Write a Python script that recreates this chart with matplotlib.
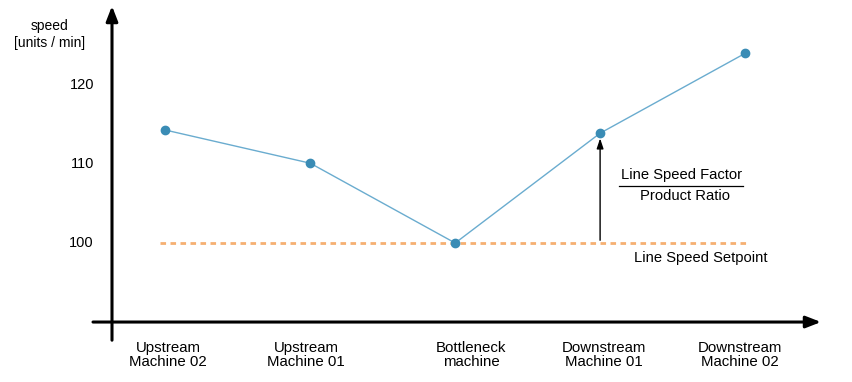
import matplotlib
matplotlib.use("Agg")
import matplotlib.pyplot as plt

categories = ["Upstream\nMachine 02", "Upstream\nMachine 01", "Bottleneck\nmachine",
              "Downstream\nMachine 01", "Downstream\nMachine 02"]
speeds = [114.3, 110.1, 100.0, 113.9, 124.0]
yticks = [100, 110, 120]
setpoint = 100

plt.rcParams['font.family'] = ['Liberation Sans', 'DejaVu Sans']

fig = plt.figure(figsize=(8.52, 3.82), dpi=100)
ax = fig.add_axes([0, 0, 1, 1])
# pixel mapping: x index 0 -> 165.4 px, 144.9 px per category
ax.set_xlim(-165.4 / 144.9, (852 - 165.4) / 144.9)
ax.set_ylim(82.41, 130.76)
ax.axis('off')

def px(p):
    return (p - 165.4) / 144.9

x = list(range(len(categories)))
# axes arrows
ax.annotate("", xy=(px(112), 130.0), xytext=(px(112), 87.7),
            arrowprops=dict(arrowstyle="-|>,head_length=0.9,head_width=0.35", lw=2.2,
                            color="black", shrinkA=0, shrinkB=0))
ax.annotate("", xy=(px(821), 90), xytext=(px(93), 90),
            arrowprops=dict(arrowstyle="-|>,head_length=0.9,head_width=0.35", lw=2.2,
                            color="black", shrinkA=0, shrinkB=0))

# setpoint line
ax.plot([px(160), px(750)], [setpoint, setpoint], color="#f6b072", lw=2.0, ls=(0, (2, 1.6)))

# data
ax.plot(x, speeds, color="#6aaccf", lw=1.0, marker="o", ms=6,
        markerfacecolor="#3a8cb5", markeredgecolor="#3a8cb5", zorder=3)

# vertical arrow
ax.annotate("", xy=(x[3], speeds[3] - 0.3), xytext=(x[3], setpoint),
            arrowprops=dict(arrowstyle="-|>,head_length=0.6,head_width=0.2", lw=1.0, color="black"))

# fraction text
ax.text(px(682), 108.6, "Line Speed Factor", ha="center", va="center", fontsize=10.6)
ax.plot([px(619), px(743)], [107.2, 107.2], color="black", lw=0.9)
ax.text(px(685), 105.9, "Product Ratio", ha="center", va="center", fontsize=10.6)
ax.text(px(701), 98.1, "Line Speed Setpoint", ha="center", va="center", fontsize=10.6)

# y ticks
for v in yticks:
    ax.text(px(94), v, str(v), ha="right", va="center", fontsize=10.5)
ax.text(px(50), 126.4, "speed\n[units / min]", ha="center", va="center", fontsize=10, linespacing=1.2)

# category labels
label_px = [168, 306, 471, 604, 740]
for lp, lab in zip(label_px, categories):
    ax.text(px(lp), 85.8, lab, ha="center", va="center", fontsize=10.8, linespacing=1.05)

fig.savefig("out.png", dpi=100)
